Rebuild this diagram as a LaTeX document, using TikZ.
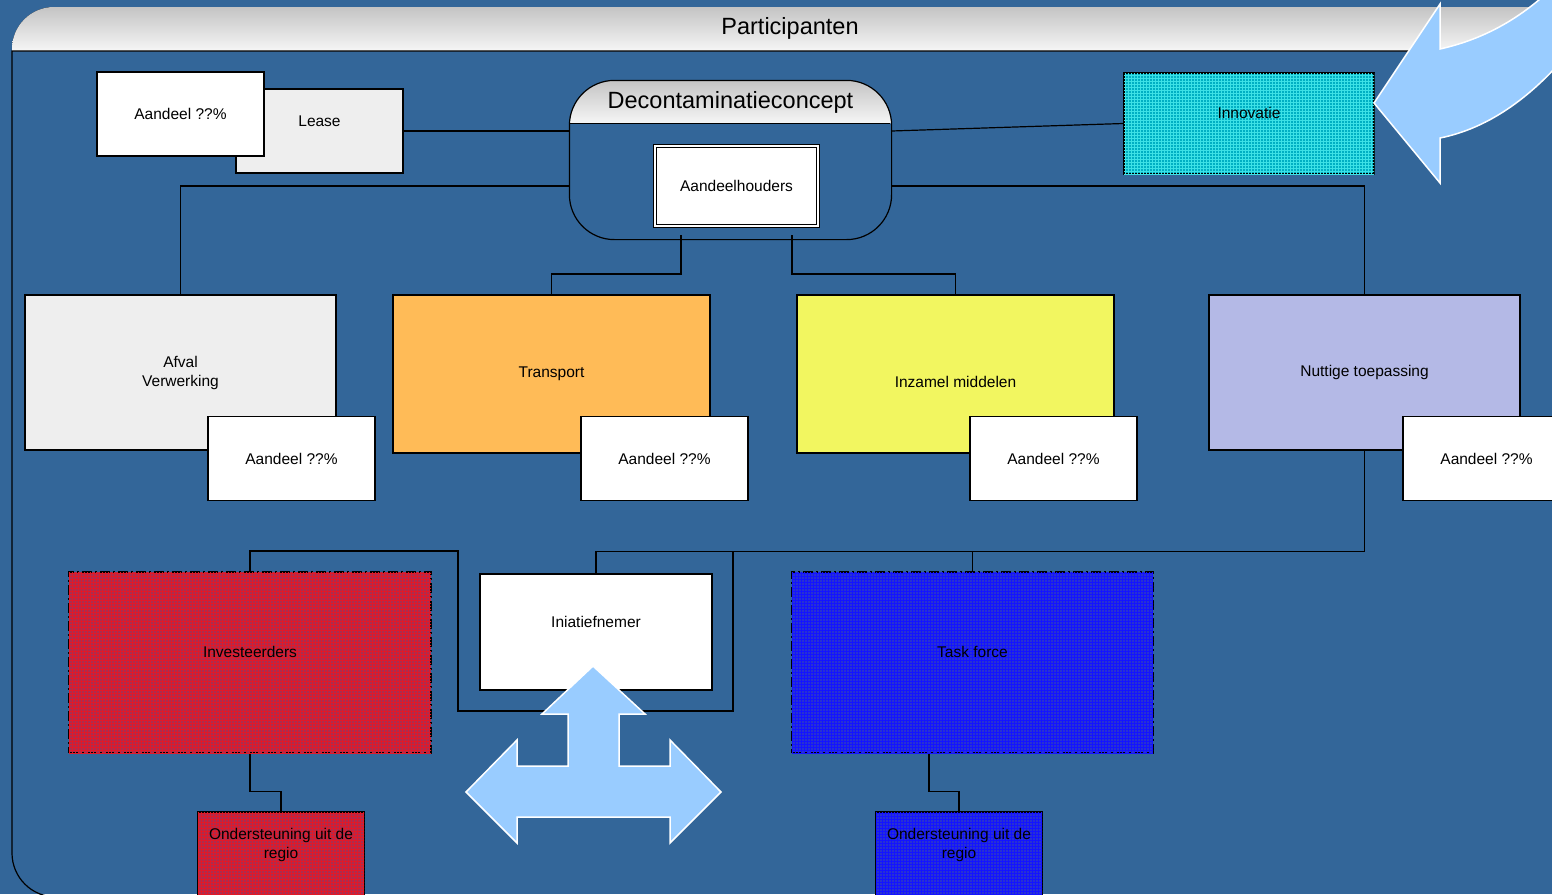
\documentclass[tikz,border=0pt]{standalone}
\usepackage{fontspec}
\setmainfont{Liberation Sans}
\usetikzlibrary{patterns}
\definecolor{achtergrond}{RGB}{51,102,153}
\definecolor{grijs}{RGB}{238,238,238}
\definecolor{oranje}{RGB}{255,187,87}
\definecolor{geel}{RGB}{242,246,96}
\definecolor{lila}{RGB}{180,185,230}
\definecolor{cyaan}{RGB}{0,175,195}
\definecolor{cyaanlijn}{RGB}{60,225,230}
\definecolor{rood}{RGB}{170,45,80}
\definecolor{roodlijn}{RGB}{225,25,40}
\definecolor{blauw}{RGB}{40,50,210}
\definecolor{blauwlijn}{RGB}{20,20,255}
\definecolor{pijlblauw}{RGB}{153,204,255}
\definecolor{kopboven}{RGB}{196,196,196}
\definecolor{koponder}{RGB}{246,246,246}
\newcommand{\groot}{\fontsize{23.5}{28}\selectfont}
\tikzset{
	lijn/.style={line width=1.2pt},
	vak/.style={draw, line width=1.2pt, inner sep=0pt, align=center, font=\fontsize{15.5}{19}\selectfont},
	aandeel/.style={vak, fill=white, minimum width=167pt, minimum height=84pt},
	kop/.style={top color=kopboven, bottom color=koponder},
	raster/.style={postaction={pattern=grid, pattern color=#1}},
	streeppunt/.style={dash pattern=on 10pt off 3pt on 2pt off 3pt},
	tekstop/.style={text height=11pt, text depth=#1},
	pijl/.style={fill=pijlblauw, draw=white, line width=1.5pt},
	deco/.style={line width=1.2pt, rounded corners=45pt, minimum width=321pt, minimum height=158pt}
}

\begin{document}
\begin{tikzpicture}[x=1pt, y=-1pt]
	\useasboundingbox (0,0) rectangle (1552,894);
	\clip (0,0) rectangle (1552,894);
	\fill[achtergrond] (0,0) rectangle (1552,894);
	% kader met kop
	\fill[kop] (12,51) [rounded corners=42pt] -- (12,7) -- (1600,7) [sharp corners] -- (1600,51) -- cycle;
	\draw[lijn] (1600,51) -- (12,51) [rounded corners=44pt] -- (12,897) -- (1620,897);
	\node[font=\groot] (titel) at (790,28) {Participanten};

	\node[vak, fill=grijs, minimum width=167pt, minimum height=84pt, tekstop=20pt] (lease) at (319.5,131) {Lease};
	\node[aandeel] (aandeelLease) at (180.5,114) {Aandeel ??\%};
	% groep met kop
	\node[deco] (deco) at (730.5,160) {};
	\begin{scope}
		\clip[rounded corners=45pt] (deco.north west) rectangle (deco.south east);
		\fill[kop] (deco.north west) rectangle ++(321,43);
	\end{scope}
	\draw[lijn] (deco.north west) ++(0,43) -- ++(321,0);
	\draw[lijn, rounded corners=45pt] (deco.north west) rectangle (deco.south east);
	\node[font=\groot] (decotitel) at (730.5,102) {Decontaminatieconcept};
	\node[vak, fill=white, line width=1pt, double, double distance=2.5pt, minimum width=163pt, minimum height=80pt] (houders) at (736.5,186) {Aandeelhouders};
	\node[vak, fill=cyaan, raster=cyaanlijn, minimum width=250pt, minimum height=101pt, tekstop=21pt] (innovatie) at (1249,123.5) {Innovatie};

	\node[vak, fill=grijs, minimum width=311pt, minimum height=155pt] (afval) at (180.5,372.5) {Afval\\Verwerking};
	\node[aandeel] (aandeelAfval) at (291.5,458.5) {Aandeel ??\%};
	\node[vak, fill=oranje, minimum width=317pt, minimum height=158pt] (transport) at (551.5,374) {Transport};
	\node[aandeel] (aandeelTransport) at (664.5,458.5) {Aandeel ??\%};
	\node[vak, fill=geel, minimum width=317pt, minimum height=158pt, text height=27pt] (inzamel) at (955.5,374) {Inzamel middelen};
	\node[aandeel] (aandeelInzamel) at (1053.5,458.5) {Aandeel ??\%};
	\node[vak, fill=lila, minimum width=311pt, minimum height=155pt] (nuttige) at (1364.5,372.5) {Nuttige toepassing};
	\node[aandeel] (aandeelNuttige) at (1486.5,458.5) {Aandeel ??\%};

	\node[vak, fill=white, minimum width=232pt, minimum height=116pt, tekstop=20pt] (iniatief) at (596,632) {Iniatiefnemer};
	\node[vak, streeppunt, fill=rood, raster=roodlijn, minimum width=362pt, minimum height=181pt, tekstop=21pt] (investeerders) at (250,662.5) {Investeerders};
	\node[vak, streeppunt, fill=blauw, raster=blauwlijn, minimum width=361pt, minimum height=181pt, tekstop=21pt] (taskforce) at (972.5,662.5) {Task force};
	\node[vak, fill=rood, raster=roodlijn, minimum width=166pt, minimum height=110pt, tekstop=28pt] (steunrood) at (281,867) {Ondersteuning uit de\\regio};
	\node[vak, fill=blauw, raster=blauwlijn, minimum width=166pt, minimum height=110pt, tekstop=28pt] (steunblauw) at (959,867) {Ondersteuning uit de\\regio};

	% verbindingen
	\draw[lijn] (lease.east) -- (deco.west |- lease.east);
	\draw[lijn] (deco.east |- lease.east) -- (innovatie.west);
	\draw[lijn] (deco.west |- houders) -| (afval.north);
	\draw[lijn] (deco.east |- houders) -| (nuttige.north);
	\coordinate (links) at (681,235);
	\coordinate (rechts) at (792,235);
	\draw[lijn] (links) -- ++(0,39) -| (transport.north);
	\draw[lijn] (rechts) -- ++(0,39) -| (inzamel.north);
	\draw[lijn] (nuttige.south) -- ++(0,101) -| (iniatief.north);
	\coordinate (tak) at (972.5,551);
	\draw[lijn] (tak) -- (taskforce.north);
	\coordinate (omweg) at (733,551);
	\draw[lijn] (omweg) -- ++(0,160) -- ++(-275,0) -- ++(0,-160) -| (investeerders.north);
	\draw[lijn] (investeerders.south) -- ++(0,38) -| (steunrood.north);
	\draw[lijn] ([xshift=-43.5pt]taskforce.south) -- ++(0,38) -| (steunblauw.north);

	% pijlen
	\draw[pijl] (1374,103) -- (1440,4) -- (1440,49) .. controls (1480,40) and (1515,22) .. (1548,-8) -- (1600,-8) -- (1600,30) -- (1575,45) .. controls (1535,95) and (1490,128) .. (1440,138) -- (1440,183) -- cycle;
	\draw[pijl] (593,666) -- (645,714) -- (619,714) -- (619,766) -- (670,766) -- (670,740) -- (721,792) -- (670,843) -- (670,817) -- (517,817) -- (517,843) -- (466,792) -- (517,740) -- (517,766) -- (568,766) -- (568,714) -- (542,714) -- cycle;
\end{tikzpicture}
\end{document}
